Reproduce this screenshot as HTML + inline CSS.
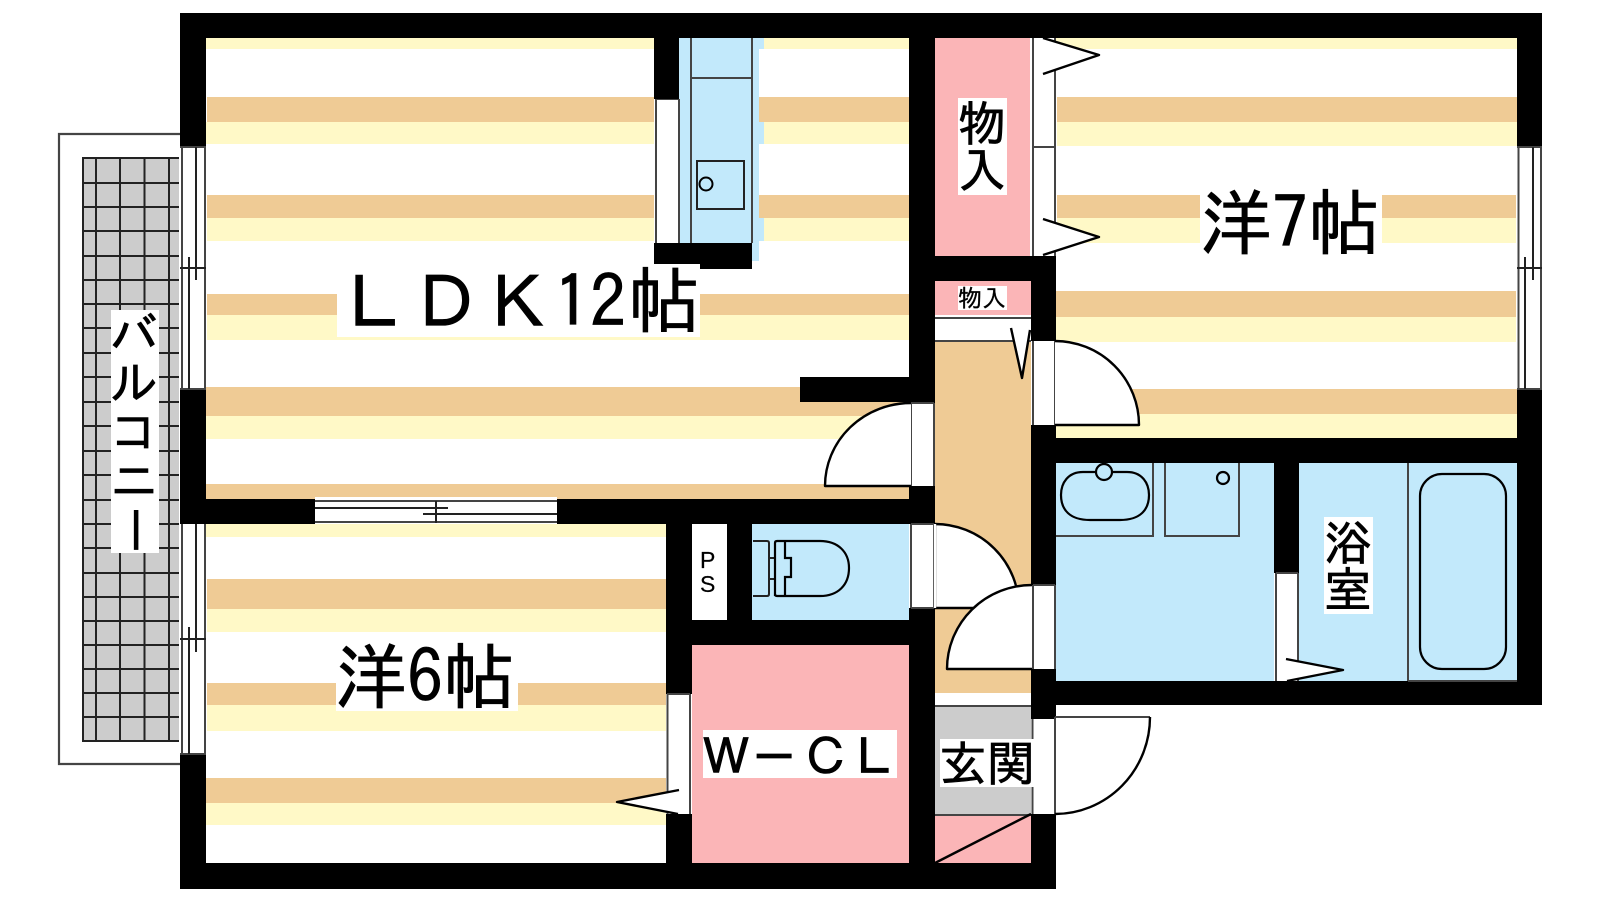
<!DOCTYPE html>
<html><head><meta charset="utf-8"><style>
html,body{margin:0;padding:0;background:#fff}
svg{display:block}
text{font-family:"IPAGothic","Liberation Sans","Noto Sans CJK JP",sans-serif;fill:#000;stroke:#000;stroke-width:.7}
.g{stroke:#444;stroke-width:2;fill:none}
.k{stroke:#000;stroke-width:2.4;fill:none}
.d{stroke:#000;stroke-width:2.4;fill:#fff;stroke-linejoin:round}
.y{fill:#FFF9C7}.b{fill:#EFCB95}
</style></head><body>
<svg width="1600" height="900" viewBox="0 0 1600 900" xmlns="http://www.w3.org/2000/svg">
<rect width="1600" height="900" fill="#fff"/>
<!-- balcony -->
<path d="M180 134H59V764H180" fill="none" stroke="#444" stroke-width="2.2"/>
<rect x="83" y="158" width="96" height="583" fill="#CCC"/>
<path fill="none" stroke="#222" stroke-width="2" d="M179 158H83V741H179M96 158V741M120 158V741M144.500 158V741M169 158V741M83 183H179M83 207H179M83 231H179M83 256H179M83 280H179M83 304H179M83 328H179M83 353H179M83 377H179M83 402H179M83 426H179M83 451H179M83 475H179M83 500H179M83 524H179M83 548H179M83 573H179M83 597H179M83 621H179M83 645H179M83 669H179M83 693H179M83 717H179"/>
<!-- LDK bands -->
<rect class="y" x="206" y="38" width="703" height="11"/>
<rect class="y" x="206" y="122" width="703" height="22"/><rect class="b" x="207" y="97" width="702" height="25"/>
<rect class="y" x="207" y="218" width="702" height="23"/><rect class="b" x="207" y="195" width="702" height="23"/>
<rect class="y" x="207" y="315" width="702" height="25"/><rect class="b" x="207" y="294" width="702" height="21"/>
<rect class="y" x="206" y="416" width="703" height="23"/><rect class="b" x="206" y="387" width="703" height="29"/>
<rect class="b" x="206" y="484" width="703" height="15"/>
<!-- room 6 bands -->
<rect class="y" x="206" y="524" width="460" height="13"/>
<rect class="b" x="207" y="579" width="459" height="30"/><rect class="y" x="207" y="609" width="459" height="23"/>
<rect class="b" x="207" y="683" width="459" height="22"/><rect class="y" x="207" y="705" width="459" height="26"/>
<rect class="b" x="206" y="778" width="460" height="25"/><rect class="y" x="206" y="803" width="460" height="22"/>
<!-- room 7 bands -->
<rect class="y" x="1056" y="38" width="461" height="11"/>
<rect class="b" x="1057" y="97" width="460" height="25"/><rect class="y" x="1057" y="122" width="460" height="24"/>
<rect class="b" x="1057" y="195" width="459" height="23"/><rect class="y" x="1057" y="218" width="459" height="25"/>
<rect class="b" x="1056" y="291" width="460" height="26"/><rect class="y" x="1056" y="317" width="460" height="25"/>
<rect class="b" x="1056" y="389" width="461" height="25"/><rect class="y" x="1056" y="414" width="461" height="24"/>
<!-- kitchen -->
<rect x="679" y="38" width="85" height="11" fill="#C2E9FB"/>
<rect x="679" y="122" width="85" height="22" fill="#C2E9FB"/>
<rect x="679" y="218" width="85" height="23" fill="#C2E9FB"/>
<rect x="679" y="38" width="80" height="223" fill="#C2E9FB"/>
<path class="g" d="M691 38V243M752 38V243M691 78H752"/>
<rect x="697" y="161" width="47" height="48" fill="none" stroke="#222" stroke-width="2"/>
<circle cx="706" cy="184" r="6.500" fill="none" stroke="#000" stroke-width="2"/>
<rect x="654" y="99" width="25" height="144" fill="#fff"/>
<path class="g" d="M656 99V243M679 99V243M656 99H679"/>
<!-- rooms -->
<rect x="935" y="38" width="95" height="218" fill="#FBB5B7"/>
<rect x="935" y="281" width="96" height="34" fill="#FBB5B7"/>
<rect x="935" y="341" width="96" height="352" fill="#EFCB95"/>
<rect x="935" y="706" width="96" height="108" fill="#CCC"/>
<rect x="935" y="814" width="96" height="49" fill="#FBB5B7"/>
<rect x="752" y="524" width="157" height="96" fill="#C2E9FB"/>
<rect x="692" y="645" width="217" height="218" fill="#FBB5B7"/>
<rect x="1056" y="463" width="461" height="218" fill="#C2E9FB"/>
<!-- walls -->
<g fill="#000">
<rect x="180" y="13" width="1362" height="25"/>
<rect x="180" y="13" width="26" height="134"/><rect x="180" y="389" width="26" height="135"/><rect x="180" y="754" width="26" height="135"/>
<rect x="180" y="863" width="876" height="26"/>
<rect x="206" y="499" width="109" height="25"/><rect x="557" y="499" width="378" height="25"/>
<rect x="909" y="13" width="26" height="390"/><rect x="909" y="486" width="26" height="38"/><rect x="909" y="608" width="26" height="281"/>
<rect x="800" y="377" width="109" height="25"/>
<rect x="654" y="38" width="25" height="61"/><rect x="654" y="243" width="98" height="26"/>
<rect x="935" y="256" width="121" height="25"/>
<rect x="1031" y="256" width="25" height="85"/><rect x="1031" y="425" width="25" height="160"/><rect x="1031" y="669" width="25" height="50"/><rect x="1031" y="814" width="25" height="75"/>
<rect x="1517" y="13" width="25" height="134"/><rect x="1517" y="389" width="25" height="316"/>
<rect x="1031" y="438" width="511" height="25"/><rect x="1056" y="681" width="486" height="24"/>
<rect x="1274" y="463" width="25" height="110"/>
<rect x="666" y="524" width="26" height="170"/><rect x="666" y="814" width="26" height="49"/>
<rect x="727" y="524" width="25" height="96"/><rect x="692" y="620" width="217" height="25"/>
</g>
<!-- windows left -->
<rect x="180" y="147" width="26" height="242" fill="#fff"/>
<path class="g" d="M182 147V389M205 147V389M180 147H206M180 389H206"/>
<path d="M180 268H206M196 147V280M189 257V389" stroke="#222" stroke-width="2" fill="none"/>
<rect x="180" y="524" width="26" height="230" fill="#fff"/>
<path class="g" d="M182 524V754M205 524V754M180 754H206"/>
<path d="M180 639H206M196 524V652M189 627V754" stroke="#222" stroke-width="2" fill="none"/>
<!-- window right -->
<rect x="1517" y="147" width="25" height="242" fill="#fff"/>
<path class="g" d="M1518.500 147V389M1541 147V389M1517 147H1542M1517 389H1542"/>
<path d="M1517 268H1542M1533 147V280M1525 257V389" stroke="#222" stroke-width="2" fill="none"/>
<!-- sliding door -->
<rect x="315" y="497" width="242" height="27" fill="#fff"/>
<path class="g" d="M315 501H557M315 522H557"/>
<path d="M315 508H448M423 514H557M436 501V523" stroke="#222" stroke-width="2" fill="none"/>
<!-- door panels + leaves -->
<rect x="909" y="403" width="26" height="83" fill="#fff"/>
<path class="g" d="M911 403V486M934 403V486M911 403H934"/>
<path class="d" d="M911 403A86 83 0 0 0 825 486H911"/>
<rect x="1031" y="341" width="25" height="84" fill="#fff"/>
<path class="g" d="M1033 341V425M1055 341V425"/>
<path class="d" d="M1055 341A84 84 0 0 1 1139 425H1055"/>
<rect x="909" y="524" width="26" height="84" fill="#fff"/>
<path class="g" d="M911 524V608M934 524V608M911 524H934M911 608H934"/>
<path class="d" d="M935 524A84 84 0 0 1 1019 608H935Z"/>
<path d="M935 608V524" stroke="#fff" stroke-width="2.4"/>
<rect x="1031" y="585" width="25" height="84" fill="#fff"/>
<path class="g" d="M1033 585V669M1055 585V669M1033 585H1055"/>
<path class="d" d="M1032 585A85 84 0 0 0 947 669H1032"/>
<!-- small closet door -->
<rect x="935" y="317" width="96" height="24" fill="#fff"/>
<path class="g" d="M935 318H1031M935 341H1031"/>
<polyline class="d" points="1011,328 1022,378 1030,330"/>
<!-- top closet door -->
<rect x="1030" y="38" width="26" height="218" fill="#fff"/>
<path class="g" d="M1033 38V256M1055 38V256M1033 147H1055"/>
<polyline class="d" points="1043,38 1099,55 1043,74"/>
<polyline class="d" points="1043,219 1099,237 1043,255"/>
<!-- WCL door -->
<rect x="666" y="694" width="26" height="120" fill="#fff"/>
<path class="g" d="M667.500 694V814M690 694V814M667 694H690"/>
<polyline class="d" points="679,790 617,802 678,814"/>
<!-- bath door -->
<rect x="1274" y="573" width="25" height="108" fill="#fff"/>
<path class="g" d="M1276 573V681M1298 573V681M1276 573H1298"/>
<polyline class="d" points="1286,659 1343,670 1287,681"/>
<!-- entrance -->
<rect x="935" y="693" width="96" height="12" fill="#fff"/>
<path class="g" d="M935 706H1031M935 815H1031"/>
<rect x="1031" y="719" width="25" height="95" fill="#fff"/>
<path class="g" d="M1032.500 719V814M1055 719V814"/>
<path d="M1150 717A95 97 0 0 1 1055 814V717Z" fill="#fff"/>
<path class="g" d="M1055 717H1150M1055 717V814"/>
<path class="k" d="M1150 717A95 97 0 0 1 1055 814"/>
<path class="k" d="M935 863L1031 814"/>
<!-- PS -->
<rect x="692" y="524" width="35" height="96" fill="#fff"/>
<!-- toilet -->
<path fill="none" stroke="#222" stroke-width="2" d="M753 541H767Q769 541 769 543V594Q769 596 767 596H753M769 558H775M769 579H775"/>
<path fill="none" stroke="#000" stroke-width="2.2" d="M775 596V543Q775 541 777 541H820C838 541 849 552 849 568C849 585 838 596 820 596H777Q775 596 775 594M785 541V558H791V577H785V596"/>
<!-- bath fixtures -->
<path class="g" d="M1056 536H1153V463"/>
<path fill="none" stroke="#000" stroke-width="2.2" d="M1083 472H1127C1142 472 1149 483 1149 495C1149 510 1140 520 1120 520H1090C1070 520 1061 510 1061 495C1061 483 1068 472 1083 472Z"/>
<circle cx="1104" cy="472" r="8" fill="#C2E9FB" stroke="#000" stroke-width="2.2"/>
<path class="g" d="M1165 463V536H1239V463"/>
<circle cx="1223" cy="478" r="6" fill="none" stroke="#000" stroke-width="2.2"/>
<path class="g" d="M1408 463V681M1408 681H1517"/>
<rect x="1420" y="474" width="86" height="195" rx="22" ry="22" fill="none" stroke="#000" stroke-width="2.2"/>
<!-- labels -->
<g fill="#fff">
<rect x="337" y="264" width="363" height="73"/>
<rect x="1200" y="185" width="182" height="72"/>
<rect x="336" y="639" width="182" height="72"/>
<rect x="958" y="98" width="49" height="97"/>
<rect x="958" y="286" width="49" height="24"/>
<rect x="1324" y="517" width="49" height="97"/>
<rect x="940" y="739" width="94" height="48"/>
<rect x="703" y="730" width="194" height="48"/>
<rect x="111" y="310" width="48" height="243"/>
</g>
<text x="338" y="329" font-size="72">ＬＤＫ</text>
<text x="554" y="328" font-size="72">12</text>
<text x="628" y="327" font-size="72">帖</text>
<text x="1200" y="249" font-size="72">洋7帖</text>
<text x="335" y="703" font-size="72">洋6帖</text>
<text x="958" y="141" font-size="48">物</text>
<text x="958" y="188" font-size="48">入</text>
<text x="958" y="307" font-size="24" style="stroke-width:.3">物入</text>
<text x="1324" y="560" font-size="48">浴</text>
<text x="1324" y="607" font-size="48">室</text>
<text x="939" y="781" font-size="48">玄関</text>
<text x="701 749 801 849" y="775" font-size="50">Ｗ－ＣＬ</text>
<text x="110" y="352" font-size="48">バ</text>
<text x="110" y="400" font-size="48">ル</text>
<text x="110" y="449" font-size="48">コ</text>
<text x="110" y="498" font-size="48">ニ</text>
<text x="110" y="546" font-size="48" transform="rotate(90 134 530)">ー</text>
<text x="700" y="568" font-size="23" style="font-family:'Liberation Sans',sans-serif;stroke-width:.2">P</text>
<text x="700" y="592" font-size="23" style="font-family:'Liberation Sans',sans-serif;stroke-width:.2">S</text>
</svg>
</body></html>
